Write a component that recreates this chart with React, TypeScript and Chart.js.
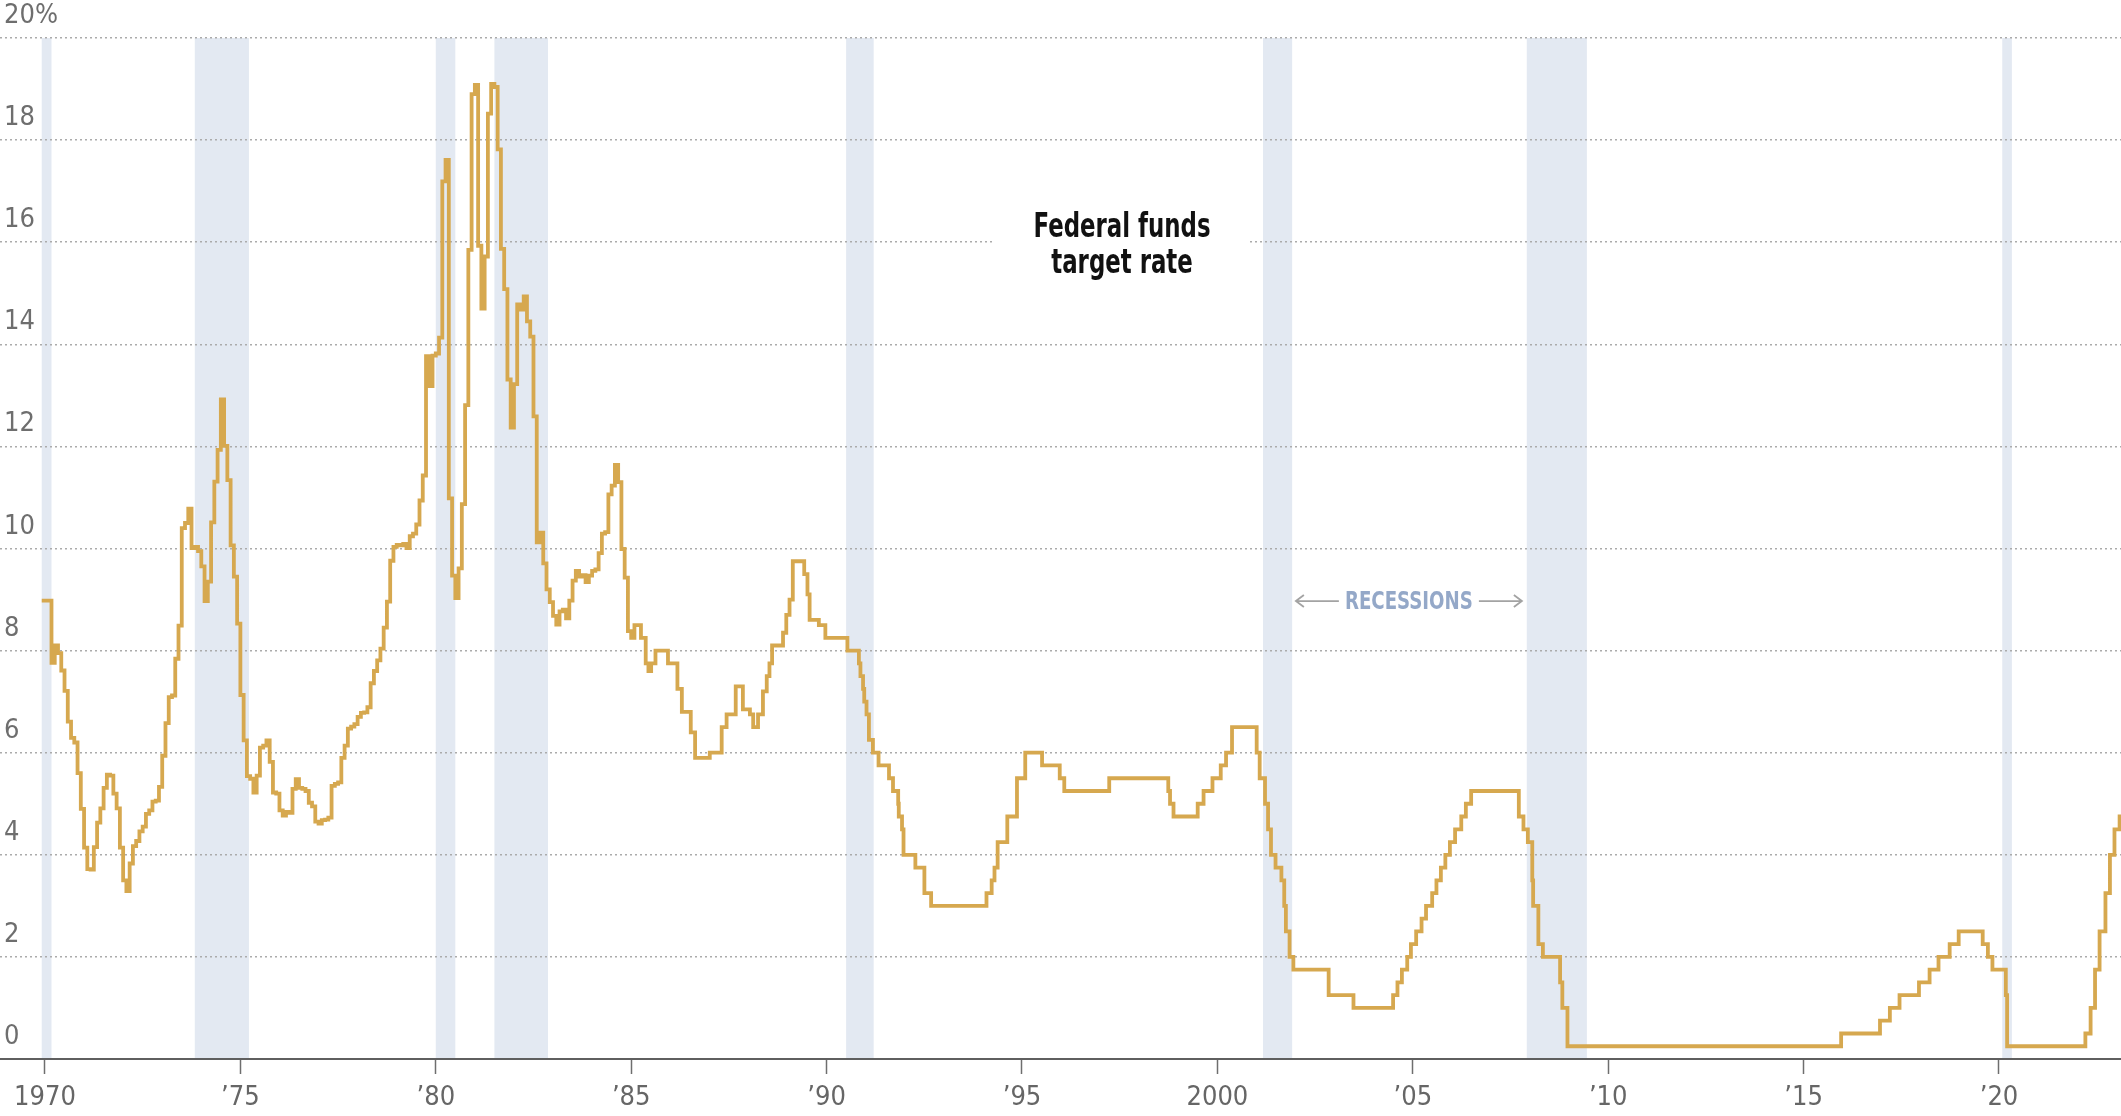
import { useEffect, useRef } from 'react';
import { Chart, registerables } from 'chart.js';

Chart.register(...registerables);

// Monthly effective federal funds rate, percent (Dec 1969 through Dec 1984)
const monthlyStart = '1969-12-01';
const rates1969 = [8.98];
const rates1970 = [8.98, 8.98, 7.76, 8.1, 7.95, 7.61, 7.21, 6.61, 6.29, 6.2, 5.6, 4.9];
const rates1971 = [4.14, 3.72, 3.71, 4.15, 4.63, 4.91, 5.31, 5.57, 5.55, 5.2, 4.91, 4.14];
const rates1972 = [3.5, 3.29, 3.83, 4.17, 4.27, 4.46, 4.55, 4.8, 4.87, 5.04, 5.06, 5.33];
const rates1973 = [5.94, 6.58, 7.09, 7.12, 7.84, 8.49, 10.4, 10.5, 10.78, 10.01, 10.03, 9.95];
const rates1974 = [9.65, 8.97, 9.35, 10.51, 11.31, 11.93, 12.92, 12.01, 11.34, 10.06, 9.45, 8.53];
const rates1975 = [7.13, 6.24, 5.54, 5.49, 5.22, 5.55, 6.1, 6.14, 6.24, 5.82, 5.22, 5.2];
const rates1976 = [4.87, 4.77, 4.84, 4.82, 5.29, 5.48, 5.31, 5.29, 5.25, 5.02, 4.95, 4.65];
const rates1977 = [4.61, 4.68, 4.69, 4.73, 5.35, 5.39, 5.42, 5.9, 6.14, 6.47, 6.51, 6.56];
const rates1978 = [6.7, 6.78, 6.79, 6.89, 7.36, 7.6, 7.81, 8.04, 8.45, 8.96, 9.76, 10.03];
const rates1979 = [10.07, 10.06, 10.09, 10.01, 10.24, 10.29, 10.47, 10.94, 11.43, 13.77, 13.18, 13.78];
const rates1980 = [13.82, 14.13, 17.19, 17.61, 10.98, 9.47, 9.03, 9.61, 10.87, 12.81, 15.85, 18.9];
const rates1981 = [19.08, 15.93, 14.7, 15.72, 18.52, 19.1, 19.04, 17.82, 15.87, 15.08, 13.31, 12.37];
const rates1982 = [13.22, 14.78, 14.68, 14.94, 14.45, 14.15, 12.59, 10.12, 10.31, 9.71, 9.2, 8.95];
const rates1983 = [8.68, 8.51, 8.77, 8.8, 8.63, 8.98, 9.37, 9.56, 9.45, 9.48, 9.34, 9.47];
const rates1984 = [9.56, 9.59, 9.91, 10.29, 10.32, 11.06, 11.23, 11.64, 11.3, 9.99, 9.43, 8.38];

// Target rate changes from 1985 on (upper bound of the range after 2008)
const targetDates = [
  '1985-01-01', '1985-02-01', '1985-04-01', '1985-05-15', '1985-06-10', '1985-07-05', '1985-08-15', '1985-12-10',
  '1986-03-07', '1986-04-18', '1986-07-10', '1986-08-20', '1987-01-05', '1987-04-25', '1987-06-10', '1987-09-04',
  '1987-11-10', '1988-01-15', '1988-02-15', '1988-03-30', '1988-05-15', '1988-06-20', '1988-07-15', '1988-08-09',
  '1988-11-20', '1988-12-20', '1989-01-20', '1989-02-20', '1989-06-05', '1989-07-05', '1989-07-25', '1989-10-20',
  '1989-12-20', '1990-07-13', '1990-10-29', '1990-11-13', '1990-12-07', '1990-12-18', '1991-01-09', '1991-02-01',
  '1991-03-08', '1991-04-30', '1991-08-06', '1991-09-13', '1991-10-31', '1991-11-06', '1991-12-06', '1991-12-20',
  '1992-04-09', '1992-07-02', '1992-09-04', '1994-02-04', '1994-03-22', '1994-04-18', '1994-05-17', '1994-08-16',
  '1994-11-15', '1995-02-01', '1995-07-06', '1995-12-19', '1996-01-31', '1997-03-25', '1998-09-29', '1998-10-15',
  '1998-11-17', '1999-06-30', '1999-08-24', '1999-11-16', '2000-02-02', '2000-03-21', '2000-05-16', '2001-01-03',
  '2001-01-31', '2001-03-20', '2001-04-18', '2001-05-15', '2001-06-27', '2001-08-21', '2001-09-17', '2001-10-02',
  '2001-11-06', '2001-12-11', '2002-11-06', '2003-06-25', '2004-06-30', '2004-08-10', '2004-09-21', '2004-11-10',
  '2004-12-14', '2005-02-02', '2005-03-22', '2005-05-03', '2005-06-30', '2005-08-09', '2005-09-20', '2005-11-01',
  '2005-12-13', '2006-01-31', '2006-03-28', '2006-05-10', '2006-06-29', '2007-09-18', '2007-10-31', '2007-12-11',
  '2008-01-22', '2008-01-30', '2008-03-18', '2008-04-30', '2008-10-08', '2008-10-29', '2008-12-16', '2015-12-17',
  '2016-12-15', '2017-03-16', '2017-06-15', '2017-12-14', '2018-03-22', '2018-06-14', '2018-09-27', '2018-12-20',
  '2019-08-01', '2019-09-19', '2019-10-31', '2020-03-04', '2020-03-16', '2022-03-17', '2022-05-05', '2022-06-16',
  '2022-07-28', '2022-09-22', '2022-11-03', '2022-12-15', '2023-02-02', '2023-03-23',
];
const targetRates = [
  8.25, 8.5, 8.25, 7.75, 7.6, 7.75, 8.0, 7.75,
  7.25, 6.8, 6.4, 5.9, 6.0, 6.5, 6.75, 7.3,
  6.85, 6.75, 6.5, 6.75, 7.2, 7.5, 7.75, 8.1,
  8.35, 8.7, 9.0, 9.75, 9.5, 9.1, 8.6, 8.5,
  8.25, 8.0, 7.75, 7.5, 7.25, 7.0, 6.75, 6.25,
  6.0, 5.75, 5.5, 5.25, 5.0, 4.75, 4.5, 4.0,
  3.75, 3.25, 3.0, 3.25, 3.5, 3.75, 4.25, 4.75,
  5.5, 6.0, 5.75, 5.5, 5.25, 5.5, 5.25, 5.0,
  4.75, 5.0, 5.25, 5.5, 5.75, 6.0, 6.5, 6.0,
  5.5, 5.0, 4.5, 4.0, 3.75, 3.5, 3.0, 2.5,
  2.0, 1.75, 1.25, 1.0, 1.25, 1.5, 1.75, 2.0,
  2.25, 2.5, 2.75, 3.0, 3.25, 3.5, 3.75, 4.0,
  4.25, 4.5, 4.75, 5.0, 5.25, 4.75, 4.5, 4.25,
  3.5, 3.0, 2.25, 2.0, 1.5, 1.0, 0.25, 0.5,
  0.75, 1.0, 1.25, 1.5, 1.75, 2.0, 2.25, 2.5,
  2.25, 2.0, 1.75, 1.25, 0.25, 0.5, 1.0, 1.75,
  2.5, 3.25, 4.0, 4.5, 4.75, 5.0,
];

// Recession periods
const recessionStarts = ['1969-12-01', '1973-11-01', '1980-01-01', '1981-07-01', '1990-07-01', '2001-03-01', '2007-12-01', '2020-02-01'];
const recessionEnds = ['1970-03-01', '1975-03-20', '1980-07-01', '1982-11-15', '1991-03-15', '2001-11-30', '2009-06-15', '2020-04-30'];

// Axis ticks
const xTickYears = [1970, 1975, 1980, 1985, 1990, 1995, 2000, 2005, 2010, 2015, 2020];
const xTickLabels = ['1970', '\u201975', '\u201980', '\u201985', '\u201990', '\u201995', '2000', '\u201905', '\u201910', '\u201915', '\u201920'];
const yTickValues = [0, 2, 4, 6, 8, 10, 12, 14, 16, 18, 20];
const yTickLabels = ['0', '2', '4', '6', '8', '10', '12', '14', '16', '18', '20%'];

const titleLines = ['Federal funds', 'target rate'];
const recessionLabel = 'RECESSIONS';

const X_MIN = 1968.849;
const X_MAX = 2023.122;

const condensedFamily = '"Liberation Sans Narrow", "Arial Narrow", "DejaVu Sans Condensed", "Roboto Condensed", sans-serif';

const toYear = (s: string) => {
  const [y, m, d] = s.split('-').map(Number);
  return y + (m - 1) / 12 + ((d || 1) - 1) / 365;
};

function buildPoints() {
  const monthly = [
    ...rates1969, ...rates1970, ...rates1971, ...rates1972, ...rates1973, ...rates1974, ...rates1975, ...rates1976,
    ...rates1977, ...rates1978, ...rates1979, ...rates1980, ...rates1981, ...rates1982, ...rates1983, ...rates1984,
  ];
  const t0 = toYear(monthlyStart);
  const pts = monthly.map((v, i) => ({ x: t0 + i / 12, y: v }));
  targetDates.forEach((d, i) => pts.push({ x: toYear(d), y: targetRates[i] }));
  return pts;
}

const recessionBands = {
  id: 'recessionBands',
  beforeDraw(chart: any) {
    const { ctx, chartArea, scales } = chart;
    const x = scales.x;
    ctx.save();
    ctx.fillStyle = '#e3e9f2';
    recessionStarts.forEach((s, i) => {
      const x1 = x.getPixelForValue(toYear(s));
      const x2 = x.getPixelForValue(toYear(recessionEnds[i]));
      ctx.fillRect(x1, chartArea.top, x2 - x1, chartArea.bottom - chartArea.top);
    });
    ctx.restore();
  },
};

const annotations = {
  id: 'annotations',
  beforeDatasetsDraw(chart: any) {
    const { ctx, scales } = chart;
    const x = scales.x;
    const y = scales.y;

    // Chart title with a white knock-out box
    const cx = x.getPixelForValue(1997.56);
    const base = y.getPixelForValue(16.1);
    ctx.save();
    ctx.font = `bold 33px ${condensedFamily}`;
    const widths = titleLines.map((l) => ctx.measureText(l).width);
    const w = Math.max(...widths);
    const sx = w > 185 ? 177 / w : 1;
    const boxW = w * sx + 78;
    ctx.fillStyle = '#ffffff';
    ctx.fillRect(cx - boxW / 2, base - 37, boxW, 90);
    ctx.fillStyle = '#111111';
    ctx.textAlign = 'center';
    ctx.textBaseline = 'alphabetic';
    titleLines.forEach((l, i) => {
      ctx.save();
      ctx.translate(cx, base + i * 36);
      ctx.scale(sx, 1);
      ctx.fillText(l, 0, 0);
      ctx.restore();
    });
    ctx.restore();

    // Recessions label with arrows
    const rx = x.getPixelForValue(2004.9);
    const ry = y.getPixelForValue(8.97);
    ctx.save();
    ctx.font = `bold 25px ${condensedFamily}`;
    const tw0 = ctx.measureText(recessionLabel).width;
    const rs = tw0 > 135 ? 128 / tw0 : 1;
    const tw = tw0 * rs;
    ctx.fillStyle = '#94a8c8';
    ctx.textAlign = 'center';
    ctx.textBaseline = 'middle';
    ctx.save();
    ctx.translate(rx, ry);
    ctx.scale(rs, 1);
    ctx.fillText(recessionLabel, 0, 1);
    ctx.restore();

    ctx.strokeStyle = '#a3a3a3';
    ctx.lineWidth = 1.8;
    const gap = 6;
    const len = 43;
    const lx1 = rx - tw / 2 - gap;
    const lx2 = lx1 - len;
    const rx1 = rx + tw / 2 + gap;
    const rx2 = rx1 + len;
    ctx.beginPath();
    ctx.moveTo(lx1, ry);
    ctx.lineTo(lx2, ry);
    ctx.moveTo(lx2 + 8, ry - 6);
    ctx.lineTo(lx2, ry);
    ctx.lineTo(lx2 + 8, ry + 6);
    ctx.moveTo(rx1, ry);
    ctx.lineTo(rx2, ry);
    ctx.moveTo(rx2 - 8, ry - 6);
    ctx.lineTo(rx2, ry);
    ctx.lineTo(rx2 - 8, ry + 6);
    ctx.stroke();
    ctx.restore();
  },
};

export default function App() {
  const canvasRef = useRef<HTMLCanvasElement | null>(null);

  useEffect(() => {
    if (!canvasRef.current) return;
    const chart = new Chart(canvasRef.current, {
      type: 'line',
      data: {
        datasets: [
          {
            label: 'Federal funds target rate',
            data: buildPoints(),
            borderColor: '#d6a84f',
            borderWidth: 3.8,
            pointRadius: 0,
            stepped: true,
            fill: false,
            tension: 0,
          },
        ],
      },
      options: {
        animation: false,
        responsive: false,
        devicePixelRatio: 1,
        layout: { padding: { top: 38, left: 0, right: 0, bottom: 0 } },
        plugins: {
          legend: { display: false },
          tooltip: { enabled: false },
          title: { display: false },
        },
        scales: {
          x: {
            type: 'linear',
            min: X_MIN,
            max: X_MAX,
            afterFit: (s: any) => {
              s.height = 57;
            },
            afterBuildTicks: (s: any) => {
              s.ticks = xTickYears.map((v) => ({ value: v }));
            },
            grid: {
              display: true,
              drawOnChartArea: false,
              drawTicks: true,
              tickLength: 15,
              tickColor: '#6e6e6e',
              tickWidth: 1.5,
            },
            border: { display: true, color: '#5f5f5f', width: 2 },
            ticks: {
              autoSkip: false,
              maxRotation: 0,
              padding: 8,
              color: '#666666',
              font: { family: condensedFamily, size: 27 },
              callback: (v: any) => {
                const i = xTickYears.indexOf(Number(v));
                return i >= 0 ? xTickLabels[i] : '';
              },
            },
          },
          y: {
            min: 0,
            max: 20,
            afterFit: (s: any) => {
              s.width = 0;
            },
            afterBuildTicks: (s: any) => {
              s.ticks = yTickValues.map((v) => ({ value: v }));
            },
            grid: {
              drawTicks: false,
              lineWidth: 1.5,
              color: (c: any) => (c.tick && c.tick.value === 0 ? 'rgba(0,0,0,0)' : '#ababab'),
            },
            border: { display: false, dash: [2, 3] },
            ticks: {
              mirror: true,
              padding: 4,
              labelOffset: -22,
              color: '#6e6e6e',
              font: { family: condensedFamily, size: 27 },
              callback: (v: any) => {
                const i = yTickValues.indexOf(Number(v));
                return i >= 0 ? yTickLabels[i] : '';
              },
            },
          },
        },
      },
      plugins: [recessionBands, annotations],
    } as any);
    return () => chart.destroy();
  }, []);

  return (
    <div style={{ position: 'absolute', left: 0, top: 0, width: 2121, height: 1116, background: '#ffffff' }}>
      <canvas ref={canvasRef} width={2121} height={1116} style={{ display: 'block', width: 2121, height: 1116 }} />
    </div>
  );
}
